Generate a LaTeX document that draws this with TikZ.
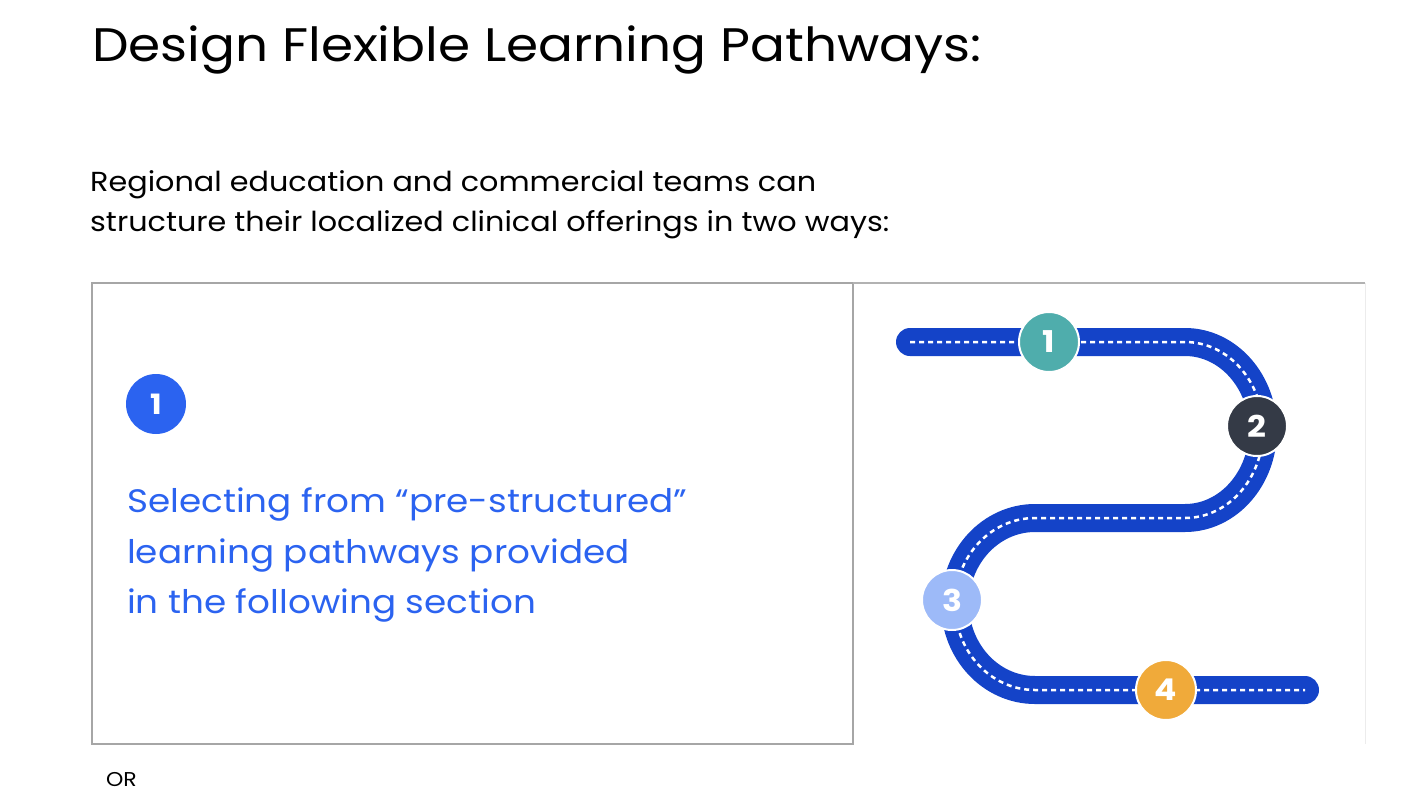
\documentclass[tikz,border=0pt]{standalone}
\usepackage{fontspec}
\setmainfont[FakeStretch=1.1]{Poppins}
\definecolor{road}{HTML}{1443C8}
\definecolor{cblue}{HTML}{2B63F0}
\definecolor{cteal}{HTML}{4FADAC}
\definecolor{cdark}{HTML}{343A46}
\definecolor{clight}{HTML}{9DBAF8}
\definecolor{corange}{HTML}{F0AA3A}
\begin{document}
\begin{tikzpicture}[x=1pt,y=-1pt,
  stop/.style={circle,draw=white,line width=2pt,minimum size=60pt,inner sep=0pt,text=white,font=\bfseries\fontsize{30}{30}\selectfont},
  txt/.style={anchor=base west,inner sep=0pt}]
\useasboundingbox (0,0) rectangle (1423,800);
\node[txt,font=\fontsize{47}{47}\selectfont] (title) at (92,62) {Design Flexible Learning Pathways:};
\node[txt,font=\fontsize{27.5}{27.5}\selectfont] (s1) at (90,191) {Regional education and commercial teams can};
\node[txt,font=\fontsize{27.5}{27.5}\selectfont] (s2) at (90,231) {structure their localized clinical offerings in two ways:};
\draw[gray!70,line width=1.2pt] (92,283) rectangle (853,744);
\draw[gray!60,line width=1.2pt] (853,283) -- (1365,283);
\draw[gray!15,line width=1pt] (1365,283) -- (1365,744);
\node[circle,fill=cblue,minimum size=60pt,inner sep=0pt,text=white,font=\bfseries\fontsize{28}{28}\selectfont] (n1) at (156,404) {1};
\node[txt,text=cblue,font=\fontsize{32.5}{32.5}\selectfont] (b1) at (127,512) {Selecting from “pre-structured”};
\node[txt,text=cblue,font=\fontsize{32.5}{32.5}\selectfont] (b2) at (127,563) {learning pathways provided};
\node[txt,text=cblue,font=\fontsize{32.5}{32.5}\selectfont] (b3) at (127,613) {in the following section};
\node[txt,font=\fontsize{20}{20}\selectfont] (or) at (106,786) {OR};
\def\roadpath{(910,342) -- (1185,342) arc[start angle=-90,end angle=90,x radius=78,y radius=88] -- (1035,518) arc[start angle=270,end angle=90,x radius=80,y radius=86] -- (1305,690)}
\draw[road,line width=28pt,line cap=round] \roadpath;
\draw[white,line width=2.5pt,dash pattern=on 5pt off 4pt] \roadpath;
\node[stop,fill=cteal] (p1) at (1049,342) {1};
\node[stop,fill=cdark] (p2) at (1257,426) {2};
\node[stop,fill=clight] (p3) at (952,600) {3};
\node[stop,fill=corange] (p4) at (1166,690) {4};
\end{tikzpicture}
\end{document}
